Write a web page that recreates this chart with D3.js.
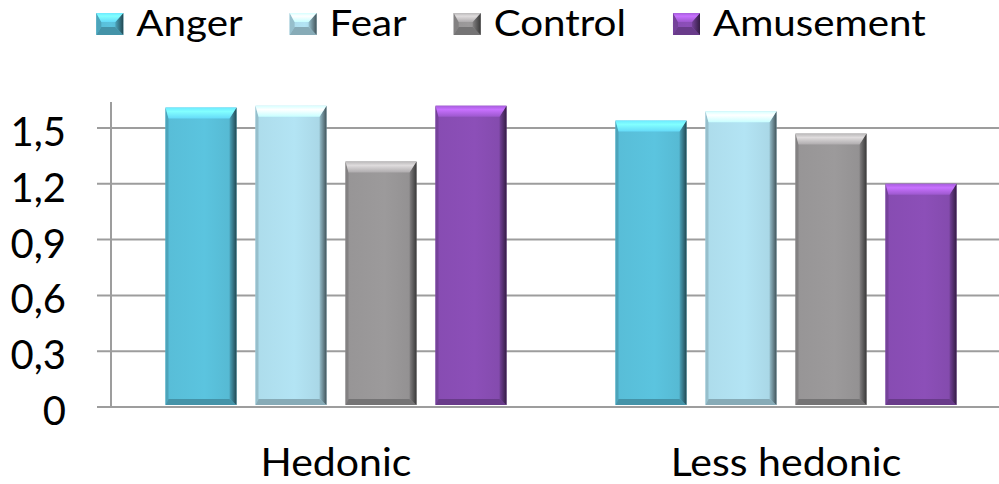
<!DOCTYPE html>
<html>
<head>
<meta charset="utf-8">
<script src="https://cdn.jsdelivr.net/npm/d3@7/dist/d3.min.js"></script>
<style>
  html, body { margin: 0; padding: 0; background: #fff; }
  svg { display: block; }
  text { font-family: Lato, "Open Sans", sans-serif; fill: #000; }
</style>
</head>
<body>
<svg id="chart" width="999" height="484"></svg>
<script>
// ---- data ----
const categories = ["Hedonic", "Less hedonic"];
const seriesNames = ["Anger", "Fear", "Control", "Amusement"];
const seriesColors = ["#5BC4DF", "#B3E4F4", "#9C9A9B", "#8C4FB8"];
const hedonicValues = [1.61, 1.62, 1.32, 1.62];
const lessHedonicValues = [1.54, 1.59, 1.47, 1.20];
const yTicks = [0, 0.3, 0.6, 0.9, 1.2, 1.5];
const yTickLabels = ["0", "0,3", "0,6", "0,9", "1,2", "1,5"];
const yMax = 1.64;

const valuesByCategory = [hedonicValues, lessHedonicValues];

// ---- layout ----
const W = 999, H = 484;
const plot = { left: 111, right: 1011, top: 102, bottom: 407 };
const svg = d3.select("#chart");
const defs = svg.append("defs");

const y = d3.scaleLinear().domain([0, yMax]).range([plot.bottom, plot.top]);
const x0 = d3.scaleBand().domain(categories).range([plot.left, plot.right])
  .paddingInner(0.2422).paddingOuter(0.1211);
const x1 = d3.scaleBand().domain(seriesNames).range([0, x0.bandwidth()])
  .paddingInner(0.211).paddingOuter(0);
const color = d3.scaleOrdinal().domain(seriesNames).range(seriesColors);

// gradients per series
seriesNames.forEach((s, i) => {
  const base = d3.color(color(s));
  const gTop = defs.append("linearGradient").attr("id", "top" + i)
    .attr("x1", 0).attr("y1", 0).attr("x2", 0).attr("y2", 1);
  gTop.append("stop").attr("offset", "0%").attr("stop-color", base.brighter(0.5));
  gTop.append("stop").attr("offset", "35%").attr("stop-color", base.brighter(1.0));
  gTop.append("stop").attr("offset", "100%").attr("stop-color", base.brighter(0.3));
  const gRight = defs.append("linearGradient").attr("id", "right" + i)
    .attr("x1", 0).attr("y1", 0).attr("x2", 1).attr("y2", 0);
  gRight.append("stop").attr("offset", "0%").attr("stop-color", base.darker(0.5));
  gRight.append("stop").attr("offset", "100%").attr("stop-color", base.darker(2.8));
  const gBody = defs.append("linearGradient").attr("id", "body" + i)
    .attr("x1", 0).attr("y1", 0).attr("x2", 1).attr("y2", 0);
  gBody.append("stop").attr("offset", "0%").attr("stop-color", base.darker(0.1));
  gBody.append("stop").attr("offset", "55%").attr("stop-color", base);
  gBody.append("stop").attr("offset", "100%").attr("stop-color", base.darker(0.2));
});

function bevel(g, x, yy, w, h, i, t, r, bt, l) {
  const base = d3.color(seriesColors[i]);
  const line = d3.line();
  g.append("rect").attr("x", x).attr("y", yy).attr("width", w).attr("height", h)
    .attr("fill", `url(#body${i})`);
  g.append("path").attr("d", line([[x, yy], [x + l, yy + t], [x + l, yy + h - bt], [x, yy + h]]) + "Z")
    .attr("fill", base.darker(0.5));
  g.append("path").attr("d", line([[x, yy + h], [x + l, yy + h - bt], [x + w - r, yy + h - bt], [x + w, yy + h]]) + "Z")
    .attr("fill", base.darker(0.8));
  g.append("path").attr("d", line([[x + w, yy], [x + w - r, yy + t], [x + w - r, yy + h - bt], [x + w, yy + h]]) + "Z")
    .attr("fill", `url(#right${i})`);
  g.append("path").attr("d", line([[x, yy], [x + w, yy], [x + w - r, yy + t], [x + l, yy + t]]) + "Z")
    .attr("fill", `url(#top${i})`);
}

function stretch(sel, factor) {
  sel.each(function () {
    const w = this.getComputedTextLength();
    d3.select(this).attr("textLength", w * factor).attr("lengthAdjust", "spacingAndGlyphs");
  });
}

// ---- gridlines & axis ----
const grid = svg.append("g");
yTicks.forEach((t) => {
  grid.append("line")
    .attr("x1", plot.left - 14).attr("x2", W)
    .attr("y1", y(t)).attr("y2", y(t))
    .attr("stroke", "#9d9d9d").attr("stroke-width", 2);
});
grid.append("line")
  .attr("x1", plot.left).attr("x2", plot.left)
  .attr("y1", plot.top).attr("y2", plot.bottom + 1)
  .attr("stroke", "#9d9d9d").attr("stroke-width", 2);

// y tick labels
svg.append("g").selectAll("text").data(yTicks).join("text")
  .attr("x", 66).attr("y", d => y(d))
  .attr("dy", "0.45em")
  .attr("text-anchor", "end")
  .attr("font-size", 40)
  .text((d, i) => yTickLabels[i]);

// ---- bars ----
const barsG = svg.append("g");
categories.forEach((c, ci) => {
  valuesByCategory[ci].forEach((v, si) => {
    const s = seriesNames[si];
    const bx = x0(c) + x1(s);
    const by = y(v);
    const bh = y(0) - 2 - by;
    bevel(barsG.append("g"), bx, by, x1.bandwidth(), bh, si, 11, 7, 6, 3);
  });
});
svg.append("line")
  .attr("x1", plot.left - 14).attr("x2", W)
  .attr("y1", y(0)).attr("y2", y(0))
  .attr("stroke", "#9d9d9d").attr("stroke-width", 2);

// category labels
const catLabels = svg.append("g").selectAll("text").data(categories).join("text")
  .attr("x", d => x0(d) + x0.bandwidth() / 2)
  .attr("y", 476)
  .attr("text-anchor", "middle")
  .attr("font-size", 38)
  .text(d => d);
stretch(catLabels, 1.08);

// ---- legend ----
const legend = svg.append("g");
const swW = 27, swH = 22, swGap = 13, itemGap = 47, legFont = 36, legStretch = 1.12;
let cx = 0;
const items = [];
seriesNames.forEach((s, i) => {
  const g = legend.append("g");
  const txt = g.append("text").attr("font-size", legFont).attr("y", 36).text(s);
  const tw = txt.node().getComputedTextLength() * legStretch;
  txt.attr("textLength", tw).attr("lengthAdjust", "spacingAndGlyphs");
  items.push({ g, txt, tw, i, start: cx });
  cx += swW + swGap + tw + itemGap;
});
const totalW = cx - itemGap;
const legStart = 511 - totalW / 2;
items.forEach(it => {
  const sx = legStart + it.start;
  bevel(it.g, sx, 13, swW, swH, it.i, 9, 8, 8, 5);
  it.txt.attr("x", sx + swW + swGap);
});
</script>
</body>
</html>
